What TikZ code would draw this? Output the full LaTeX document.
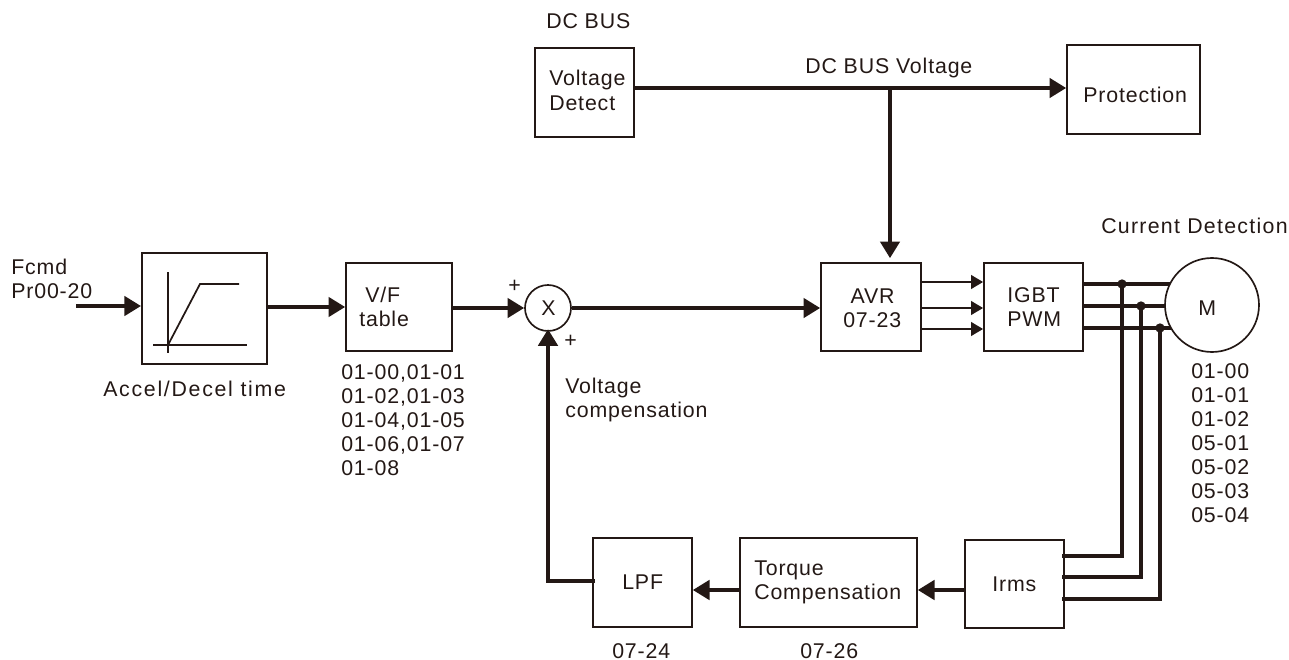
\documentclass[tikz,border=0pt]{standalone}
\usepackage{fontspec}
\setmainfont{Liberation Sans}[LetterSpace=4]
\newfontfamily\widefont{Liberation Sans}[LetterSpace=6]
\newfontfamily\widerfont{Liberation Sans}[LetterSpace=8]
\usetikzlibrary{arrows.meta}
\definecolor{ink}{HTML}{231815}
\tikzset{
  every node/.style={text=ink,font=\fontsize{16pt}{18pt}\selectfont},
  blockbox/.style={draw=ink,line width=1.25pt,inner sep=0pt},
  circbox/.style={draw=ink,line width=1.25pt,circle,inner sep=0pt,fill=white},
  label/.style={inner sep=0pt,align=left,anchor=base west},
  flow/.style={draw=ink,line width=2.8pt,-{Triangle[length=12.5pt,width=14.5pt]}},
  smallflow/.style={draw=ink,line width=2pt,-{Triangle[length=9pt,width=10pt]}},
  wire/.style={draw=ink,line width=2.8pt},
  ramp/.style={draw=ink,line width=1.3pt},
  joint/.style={circle,fill=ink,inner sep=0pt,minimum size=7pt}
}
\begin{document}
\begin{tikzpicture}[x=0.75pt,y=-0.75pt]
\useasboundingbox (0,0) rectangle (1289,660);
% blocks
\node[blockbox,minimum width=74.25pt,minimum height=66.75pt] (vd) at (584.5,92.5) {};
\node[blockbox,minimum width=99.75pt,minimum height=66.75pt] (prot) at (1133.5,89.5) {};
\node[blockbox,minimum width=94pt,minimum height=83pt] (acc) at (204.5,308.5) {};
\node[blockbox,minimum width=79.5pt,minimum height=66pt] (vf) at (399,307) {};
\node[circbox,minimum size=34.5pt] (sum) at (548,308) {};
\node[blockbox,minimum width=75pt,minimum height=66pt] (avr) at (871,307) {};
\node[blockbox,minimum width=74.25pt,minimum height=66pt] (igbt) at (1033.5,307) {};
\node[blockbox,minimum width=74.25pt,minimum height=66pt] (irms) at (1014.5,584) {};
\node[blockbox,minimum width=132.75pt,minimum height=66.75pt] (tq) at (828.5,582.5) {};
\node[blockbox,minimum width=74.25pt,minimum height=66.75pt] (lpf) at (642.5,582.5) {};
% labels
\node[label] (dcbus) at (546,29) {DC BUS};
\node[label] (dcv) at (805,74) {DC BUS Voltage};
\node[label] (curr) at (1101,233) {\widefont Current Detection};
\node[label] (fcmd) at (11,298) {Fcmd\\Pr00-20};
\node[label] (accl) at (103,396) {\widerfont Accel/Decel time};
\node[label] (vdt) at (549,110) {Voltage\\Detect};
\node[label] (prt) at (1083,103) {Protection};
\node[label] (vft) at (359,326) {\hspace{4.5pt}V/F\\table};
\node[label] (sumt) at (541,315) {X};
\node[label] (avrt) at (843,327) {\hspace{5.5pt}AVR\\07-23};
\node[label] (igbtt) at (1007,326) {IGBT\\PWM};
\node[label] (irmst) at (992,591) {Irms};
\node[label] (tqt) at (754,599) {Torque\\Compensation};
\node[label] (lpft) at (622,589) {LPF};
\node[label] (vfl) at (341,475) {01-00,01-01\\01-02,01-03\\01-04,01-05\\01-06,01-07\\01-08};
\node[label] (pa) at (508,292) {+};
\node[label] (pb) at (564,347) {+};
\node[label] (vc) at (565,417) {Voltage\\compensation};
\node[label] (ml) at (1191,522) {01-00\\01-01\\01-02\\05-01\\05-02\\05-03\\05-04};
\node[label] (n24) at (612,658) {07-24};
\node[label] (n26) at (800,658) {07-26};
% ramp glyph
\draw[ramp] (168,272) -- (168,353);
\draw[ramp] (153,345) -- (247,345);
\draw[ramp] (168,345) -- (200,284) -- (239,284);
% anchors
\coordinate (motc) at (1212,305);
\coordinate (fstart) at (76,306);
\coordinate (bus) at (890,88);
\coordinate (a1) at (921,282);
\coordinate (a2) at (921,308);
\coordinate (a3) at (921,329);
\coordinate (o1) at (1083,284);
\coordinate (o2) at (1083,306);
\coordinate (o3) at (1083,328);
\coordinate (j1) at (1122,284);
\coordinate (j2) at (1141,306);
\coordinate (j3) at (1160,328);
\coordinate (i1) at (1062,556);
\coordinate (i2) at (1062,577);
\coordinate (i3) at (1062,599);
\coordinate (lp) at (595,581);
\coordinate (bot) at (0,590);
% connectors
\draw[flow] (fstart) -- (acc.west |- fstart);
\draw[flow] (acc.east |- vf.west) -- (vf.west);
\draw[flow] (vf.east |- sum.west) -- (sum.west);
\draw[flow] (sum.east) -- (avr.west |- sum.east);
\draw[flow] (vd.east |- bus) -- (prot.west |- bus);
\draw[flow,shorten >=3pt] (bus) -- (bus |- avr.north);
\draw[smallflow] (a1) -- (igbt.west |- a1);
\draw[smallflow] (a2) -- (igbt.west |- a2);
\draw[smallflow] (a3) -- (igbt.west |- a3);
\draw[wire] (o1) -- (motc |- o1);
\draw[wire] (o2) -- (motc |- o2);
\draw[wire] (o3) -- (motc |- o3);
\draw[wire] (i1) -| (j1);
\draw[wire] (i2) -| (j2);
\draw[wire] (i3) -| (j3);
\node[joint] (d1) at (j1) {};
\node[joint] (d2) at (j2) {};
\node[joint] (d3) at (j3) {};
\draw[flow] (irms.west |- bot) -- (tq.east |- bot);
\draw[flow] (tq.west |- bot) -- (lpf.east |- bot);
\draw[flow,shorten >=-2pt] (lp) -| (sum.south);
\node[circbox,minimum size=70.5pt] (mot) at (motc) {};
\node[label] (mott) at (1198,315) {M};
\end{tikzpicture}
\end{document}
